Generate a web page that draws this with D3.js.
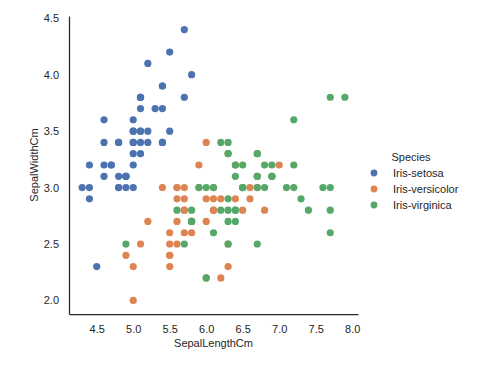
<!DOCTYPE html>
<html>
  <head>
    <meta charset="utf-8">
    <title>Iris sepal scatter</title>
    <script src="https://d3js.org/d3.v7.min.js"></script>
    <style>
      body { margin: 0; background: #fff; }
      text { font-family: "Liberation Sans", Arial, sans-serif; fill: #262626; }
    </style>
  </head>
  <body>
    <script>
      // ==================
      // Data (SepalLengthCm, SepalWidthCm)
      // ==================
      const species = ["Iris-setosa", "Iris-versicolor", "Iris-virginica"];
      const colors = ["#4c72b0", "#dd8452", "#55a868"];

      const setosa = [
        [5.1,3.5],[4.9,3.0],[4.7,3.2],[4.6,3.1],[5.0,3.6],[5.4,3.9],[4.6,3.4],[5.0,3.4],[4.4,2.9],[4.9,3.1],
        [5.4,3.7],[4.8,3.4],[4.8,3.0],[4.3,3.0],[5.8,4.0],[5.7,4.4],[5.4,3.9],[5.1,3.5],[5.7,3.8],[5.1,3.8],
        [5.4,3.4],[5.1,3.7],[4.6,3.6],[5.1,3.3],[4.8,3.4],[5.0,3.0],[5.0,3.4],[5.2,3.5],[5.2,3.4],[4.7,3.2],
        [4.8,3.1],[5.4,3.4],[5.2,4.1],[5.5,4.2],[4.9,3.1],[5.0,3.2],[5.5,3.5],[4.9,3.1],[4.4,3.0],[5.1,3.4],
        [5.0,3.5],[4.5,2.3],[4.4,3.2],[5.0,3.5],[5.1,3.8],[4.8,3.0],[5.1,3.8],[4.6,3.2],[5.3,3.7],[5.0,3.3]
      ];
      const versicolor = [
        [7.0,3.2],[6.4,3.2],[6.9,3.1],[5.5,2.3],[6.5,2.8],[5.7,2.8],[6.3,3.3],[4.9,2.4],[6.6,2.9],[5.2,2.7],
        [5.0,2.0],[5.9,3.0],[6.0,2.2],[6.1,2.9],[5.6,2.9],[6.7,3.1],[5.6,3.0],[5.8,2.7],[6.2,2.2],[5.6,2.5],
        [5.9,3.2],[6.1,2.8],[6.3,2.5],[6.1,2.8],[6.4,2.9],[6.6,3.0],[6.8,2.8],[6.7,3.0],[6.0,2.9],[5.7,2.6],
        [5.5,2.4],[5.5,2.4],[5.8,2.7],[6.0,2.7],[5.4,3.0],[6.0,3.4],[6.7,3.1],[6.3,2.3],[5.6,3.0],[5.5,2.5],
        [5.5,2.6],[6.1,3.0],[5.8,2.6],[5.0,2.3],[5.6,2.7],[5.7,3.0],[5.7,2.9],[6.2,2.9],[5.1,2.5],[5.7,2.8]
      ];
      const virginica = [
        [6.3,3.3],[5.8,2.7],[7.1,3.0],[6.3,2.9],[6.5,3.0],[7.6,3.0],[4.9,2.5],[7.3,2.9],[6.7,2.5],[7.2,3.6],
        [6.5,3.2],[6.4,2.7],[6.8,3.0],[5.7,2.5],[5.8,2.8],[6.4,3.2],[6.5,3.0],[7.7,3.8],[7.7,2.6],[6.0,2.2],
        [6.9,3.2],[5.6,2.8],[7.7,2.8],[6.3,2.7],[6.7,3.3],[7.2,3.2],[6.2,2.8],[6.1,3.0],[6.4,2.8],[7.2,3.0],
        [7.4,2.8],[7.9,3.8],[6.4,2.8],[6.3,2.8],[6.1,2.6],[7.7,3.0],[6.3,3.4],[6.4,3.1],[6.0,3.0],[6.9,3.1],
        [6.7,3.1],[6.9,3.1],[5.8,2.7],[6.8,3.2],[6.7,3.3],[6.7,3.0],[6.3,2.5],[6.5,3.0],[6.2,3.4],[5.9,3.0]
      ];
      const groups = [setosa, versicolor, virginica];

      const xTicks = [4.5, 5.0, 5.5, 6.0, 6.5, 7.0, 7.5, 8.0];
      const yTicks = [2.0, 2.5, 3.0, 3.5, 4.0, 4.5];

      // ==================
      // Layout
      // ==================
      const width = 493, height = 373;
      const plotLeft = 69, plotRight = 358, plotTop = 16, plotBottom = 314;

      const svg = d3.select("body").append("svg")
        .attr("width", width)
        .attr("height", height);

      const xScale = d3.scaleLinear().domain([4.12, 8.08]).range([plotLeft, plotRight]);
      const yScale = d3.scaleLinear().domain([1.88, 4.52]).range([plotBottom, plotTop]);

      const xAxis = d3.axisBottom(xScale).tickValues(xTicks).tickFormat(d3.format(".1f")).tickSize(0).tickPadding(11);
      const yAxis = d3.axisLeft(yScale).tickValues(yTicks).tickFormat(d3.format(".1f")).tickSize(0).tickPadding(10);

      const gx = svg.append("g")
        .attr("transform", "translate(0," + plotBottom + ")")
        .call(xAxis);
      const gy = svg.append("g")
        .attr("transform", "translate(" + plotLeft + ",0)")
        .call(yAxis);

      [gx, gy].forEach(function(g) {
        g.select(".domain").attr("stroke", "#262626").attr("stroke-width", 1.25);
        g.selectAll("text").attr("font-size", 11).attr("fill", "#262626")
          .style("font-family", "'Liberation Sans', Arial, sans-serif");
      });

      svg.append("text")
        .attr("x", (plotLeft + plotRight) / 2)
        .attr("y", 347)
        .attr("text-anchor", "middle")
        .attr("font-size", 11)
        .text("SepalLengthCm");

      svg.append("text")
        .attr("transform", "translate(38," + ((plotTop + plotBottom) / 2) + ") rotate(-90)")
        .attr("text-anchor", "middle")
        .attr("font-size", 11)
        .text("SepalWidthCm");

      // points
      groups.forEach(function(data, i) {
        svg.append("g").selectAll("circle")
          .data(data)
          .enter().append("circle")
            .attr("cx", function(d) { return xScale(d[0]); })
            .attr("cy", function(d) { return yScale(d[1]); })
            .attr("r", 3.6)
            .attr("fill", colors[i]);
      });

      // legend
      const legend = svg.append("g").attr("transform", "translate(374,157)");
      legend.append("text")
        .attr("x", 37)
        .attr("y", 4)
        .attr("text-anchor", "middle")
        .attr("font-size", 11)
        .text("Species");
      species.forEach(function(name, i) {
        const row = legend.append("g").attr("transform", "translate(0," + (16 + i * 16) + ")");
        row.append("circle").attr("r", 3.4).attr("fill", colors[i]);
        row.append("text").attr("x", 19).attr("y", 4).attr("font-size", 11).text(name);
      });
    </script>
  </body>
</html>
